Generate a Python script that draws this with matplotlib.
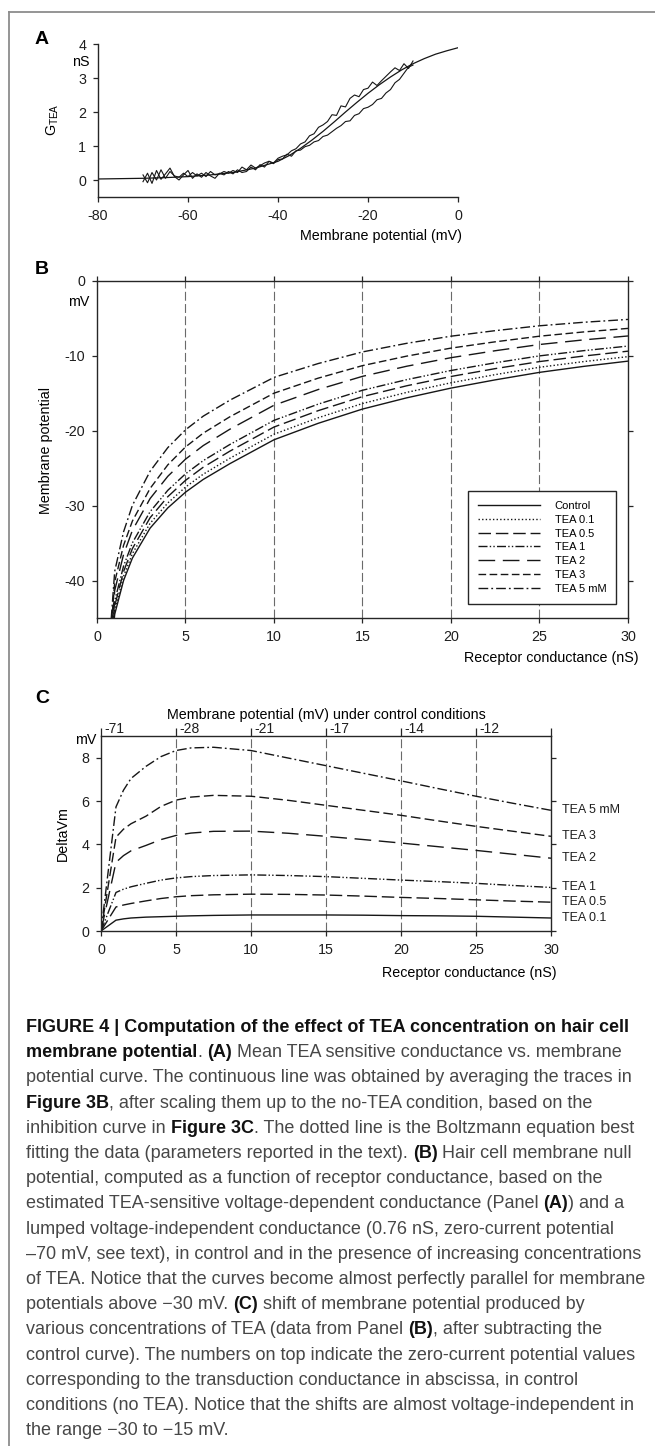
import numpy as np
import matplotlib
matplotlib.use('Agg')
import matplotlib.pyplot as plt
import matplotlib.transforms as mtransforms
from matplotlib.lines import Line2D

plt.rcParams['font.family'] = ['Liberation Sans', 'DejaVu Sans']
plt.rcParams['axes.unicode_minus'] = False
plt.rcParams['mathtext.default'] = 'regular'

W, H = 655, 1446

# --- panel A: TEA-sensitive conductance vs membrane potential ---
v_fit = [-80, -75, -70, -65, -60, -55, -50, -45, -40, -37.5, -35, -32.5, -30,
         -27.5, -25, -22.5, -20, -17.5, -15, -12.5, -10, -7.5, -5, -2.5, 0]
g_fit = [0.03, 0.04, 0.05, 0.07, 0.10, 0.15, 0.22, 0.35, 0.55, 0.72, 0.93, 1.17, 1.43,
         1.71, 2.00, 2.28, 2.55, 2.80, 3.03, 3.24, 3.42, 3.57, 3.70, 3.80, 3.89]

# averaged traces, sampled every 1 mV from -70 to -10
trace_1 = [0.15, -0.08, 0.22, 0.00, 0.30, 0.05, 0.25, 0.12, 0.08, 0.20, 0.10,
           0.22, 0.12, 0.20, 0.10, 0.25, 0.15, 0.18, 0.25, 0.20, 0.28,
           0.22, 0.38, 0.30, 0.44, 0.35, 0.42, 0.50, 0.55, 0.50, 0.64,
           0.70, 0.74, 0.86, 0.92, 1.06, 1.12, 1.30, 1.36, 1.55, 1.62,
           1.72, 1.92, 1.90, 2.18, 2.15, 2.40, 2.50, 2.45, 2.66, 2.70,
           2.88, 2.78, 2.92, 3.05, 3.18, 3.30, 3.22, 3.42, 3.28, 3.50]
trace_2 = [-0.05, 0.20, -0.10, 0.28, 0.02, 0.18, 0.35, 0.10, 0.00, 0.15, 0.28,
           0.05, 0.18, 0.08, 0.22, 0.12, 0.05, 0.20, 0.15, 0.25, 0.18,
           0.30, 0.22, 0.25, 0.38, 0.30, 0.45, 0.38, 0.55, 0.48, 0.60,
           0.62, 0.76, 0.70, 0.86, 0.88, 0.98, 1.02, 1.12, 1.16, 1.28,
           1.32, 1.42, 1.52, 1.60, 1.72, 1.74, 1.90, 1.95, 2.10, 2.14,
           2.22, 2.36, 2.40, 2.56, 2.66, 2.86, 2.96, 3.14, 3.32, 3.38]

# --- panels B and C: receptor conductance (nS) ---
g_rec = [0, 1, 1.5, 2, 3, 4, 5, 6, 7.5, 10, 12.5, 15, 17.5, 20, 22.5, 25, 27.5, 30]
vm_control = [-71, -44.5, -40.0, -37.0, -33.0, -30.3, -28.2, -26.5, -24.4, -21.2,
              -19.0, -17.1, -15.6, -14.3, -13.2, -12.2, -11.4, -10.7]
# shift of membrane potential (mV) from control
shift_01 = [0, 0.50, 0.56, 0.60, 0.64, 0.66, 0.68, 0.70, 0.72, 0.74,
            0.74, 0.74, 0.73, 0.71, 0.70, 0.68, 0.64, 0.60]
shift_05 = [0, 1.11, 1.20, 1.27, 1.39, 1.50, 1.58, 1.63, 1.67, 1.70,
            1.69, 1.66, 1.61, 1.55, 1.50, 1.44, 1.38, 1.33]
shift_1 = [0, 1.78, 1.93, 2.04, 2.20, 2.35, 2.45, 2.51, 2.56, 2.59,
           2.56, 2.51, 2.43, 2.35, 2.28, 2.20, 2.10, 2.01]
shift_2 = [0, 3.17, 3.48, 3.70, 3.95, 4.22, 4.41, 4.52, 4.60, 4.61,
           4.51, 4.37, 4.22, 4.06, 3.89, 3.72, 3.54, 3.36]
shift_3 = [0, 4.33, 4.70, 4.95, 5.30, 5.75, 6.04, 6.18, 6.26, 6.22,
           6.03, 5.80, 5.57, 5.34, 5.08, 4.83, 4.60, 4.37]
shift_5 = [0, 5.73, 6.50, 7.04, 7.60, 8.05, 8.33, 8.45, 8.48, 8.33,
           7.98, 7.63, 7.28, 6.93, 6.57, 6.22, 5.89, 5.57]

tea_labels = ['TEA 0.1', 'TEA 0.5', 'TEA 1', 'TEA 2', 'TEA 3', 'TEA 5 mM']
top_ticks = [0, 5, 10, 15, 20, 25]

shifts = [shift_01, shift_05, shift_1, shift_2, shift_3, shift_5]
# line styles of panel B (control drawn solid)
styles_b = [(0, (1, 1.6)), (0, (9, 3.5)), (0, (6.5, 1.6, 1, 1.6, 1, 1.6)),
            (0, (12, 5.5)), (0, (5.5, 2.5)), (0, (7, 2.2, 1.3, 2.2))]
# panel C has no control curve, TEA 0.1 takes the solid line
styles_c = ['-', (0, (9, 3.5)), (0, (6.5, 1.6, 1, 1.6, 1, 1.6)),
            (0, (12, 5.5)), (0, (7, 3)), (0, (7, 2.2, 1.3, 2.2))]

INK = '#161616'
AX = '#262626'
GRID = '#6a6a6a'

fig = plt.figure(figsize=(W / 100, H / 100), dpi=100)


def px_axes(left, top, right, bottom):
    return fig.add_axes([left / W, 1 - bottom / H, (right - left) / W, (bottom - top) / H])


def ftext(x, y, s, **kw):
    return fig.text(x / W, 1 - y / H, s, **kw)


def style_axes(ax):
    for sp in ax.spines.values():
        sp.set_color(AX)
        sp.set_linewidth(1.0)
    ax.tick_params(direction='out', length=3.5, width=0.9, colors=AX,
                   labelsize=10.3, pad=5, labelcolor='#1e1e1e')


# frame around the figure
fig.add_artist(Line2D([9 / W, 1], [1 - 12 / H, 1 - 12 / H], transform=fig.transFigure,
                      color='#8c8c8c', lw=1.3))
fig.add_artist(Line2D([9 / W, 9 / W], [1 - 12 / H, 0], transform=fig.transFigure,
                      color='#8c8c8c', lw=1.3))

# ---------------- A ----------------
axA = px_axes(98, 44, 458, 197)
style_axes(axA)
axA.plot(v_fit, g_fit, color=INK, lw=0.9)
axA.plot(np.linspace(-70, -10, len(trace_1)), trace_1, color=INK, lw=0.8)
axA.plot(np.linspace(-70, -10, len(trace_2)), trace_2, color=INK, lw=0.8)
axA.set_xlim(-80, 0)
axA.set_ylim(-0.5, 4)
axA.set_xticks([-80, -60, -40, -20, 0])
axA.set_yticks([0, 1, 2, 3, 4])
axA.spines['top'].set_visible(False)
axA.spines['right'].set_visible(False)
ftext(35, 39, 'A', fontsize=14, fontweight='bold', ha='left', va='center')
ftext(81, 62, 'nS', fontsize=10.3, ha='center', va='center')
ftext(53, 120, 'G$_{TEA}$', fontsize=10.3, rotation=90, ha='center', va='center')
ftext(462, 236, 'Membrane potential (mV)', fontsize=10.3, ha='right', va='center')

# ---------------- B ----------------
axB = px_axes(97, 281, 628, 618)
style_axes(axB)
for xv in [5, 10, 15, 20, 25]:
    axB.axvline(xv, color=GRID, lw=0.8, ls=(0, (8, 3)), zorder=1)
axB.plot(g_rec, vm_control, color=INK, lw=1.0, label='Control')
for sh, ls, lab in zip(shifts, styles_b, tea_labels):
    vm = np.array(vm_control) + np.array(sh)
    axB.plot(g_rec, vm, color=INK, lw=1.0, ls=ls, label=lab)
axB.set_xlim(0, 30)
axB.set_ylim(-45, 0)
axB.set_xticks([0, 5, 10, 15, 20, 25, 30])
axB.set_yticks([0, -10, -20, -30, -40])
axB.tick_params(top=True, right=True, labeltop=False, labelright=False)
leg = axB.legend(loc='upper left', bbox_to_anchor=((468 - 97) / 531, 1 - (491 - 281) / 337),
                 fontsize=8, handlelength=5.6, handletextpad=1.3, labelspacing=0.34,
                 borderpad=0.9, borderaxespad=0, fancybox=False, framealpha=1,
                 edgecolor=AX)
leg.get_frame().set_linewidth(1.0)
ftext(35, 270, 'B', fontsize=14, fontweight='bold', ha='left', va='center')
ftext(79, 302, 'mV', fontsize=10.3, ha='center', va='center')
ftext(46, 450, 'Membrane potential', fontsize=10.3, rotation=90, ha='center', va='center')
ftext(639, 658, 'Receptor conductance (nS)', fontsize=10.3, ha='right', va='center')

# ---------------- C ----------------
axC = px_axes(101, 736, 551, 931)
style_axes(axC)
for xv in [5, 10, 15, 20, 25]:
    axC.axvline(xv, color=GRID, lw=0.8, ls=(0, (8, 3)), zorder=1)
for sh, ls, lab in zip(shifts, styles_c, tea_labels):
    axC.plot(g_rec, sh, color=INK, lw=1.0, ls=ls)
    axC.annotate(lab, xy=(g_rec[-1], sh[-1]), xytext=(8, 0), textcoords='offset points',
                 fontsize=9, ha='left', va='center', color='#1e1e1e',
                 annotation_clip=False)
axC.set_xlim(0, 30)
axC.set_ylim(0, 9)
axC.set_xticks([0, 5, 10, 15, 20, 25, 30])
axC.set_yticks([0, 2, 4, 6, 8])
axC.tick_params(top=True, right=True, labeltop=False, labelright=False)
# top ticks reach up beside the control potential labels
for tk in axC.xaxis.get_major_ticks():
    tk.tick2line.set_markersize(6)
top_tr = mtransforms.blended_transform_factory(axC.transData, axC.transAxes)
for g in top_ticks:
    vm = vm_control[g_rec.index(g)]
    axC.text(g + 0.2, 1.0, f'{vm:.0f}', transform=top_tr, fontsize=10,
             ha='left', va='bottom', color='#1e1e1e')
ftext(35, 698, 'C', fontsize=14, fontweight='bold', ha='left', va='center')
ftext(326, 715, 'Membrane potential (mV) under control conditions', fontsize=10.3,
      ha='center', va='center')
ftext(86, 740, 'mV', fontsize=10.3, ha='center', va='center')
ftext(63, 834, 'DeltaVm', fontsize=10.3, rotation=90, ha='center', va='center')
ftext(557, 973, 'Receptor conductance (nS)', fontsize=10.3, ha='right', va='center')

# ---------------- caption ----------------
caption = [
    [('FIGURE 4 | Computation of the effect of TEA concentration on hair cell', True)],
    [('membrane potential', True), ('.', False), (' (A)', True),
     (' Mean TEA sensitive conductance vs. membrane', False)],
    [('potential curve. The continuous line was obtained by averaging the traces in', False)],
    [('Figure 3B', True), (', after scaling them up to the no-TEA condition, based on the', False)],
    [('inhibition curve in', False), (' Figure 3C', True),
     ('. The dotted line is the Boltzmann equation best', False)],
    [('fitting the data (parameters reported in the text).', False), (' (B)', True),
     (' Hair cell membrane null', False)],
    [('potential, computed as a function of receptor conductance, based on the', False)],
    [('estimated TEA-sensitive voltage-dependent conductance (Panel', False), (' (A)', True),
     (') and a', False)],
    [('lumped voltage-independent conductance (0.76 nS, zero-current potential', False)],
    [('\u201370 mV, see text), in control and in the presence of increasing concentrations', False)],
    [('of TEA. Notice that the curves become almost perfectly parallel for membrane', False)],
    [('potentials above \u221230 mV.', False), (' (C)', True),
     (' shift of membrane potential produced by', False)],
    [('various concentrations of TEA (data from Panel', False), (' (B)', True),
     (', after subtracting the', False)],
    [('control curve). The numbers on top indicate the zero-current potential values', False)],
    [('corresponding to the transduction conductance in abscissa, in control', False)],
    [('conditions (no TEA). Notice that the shifts are almost voltage-independent in', False)],
    [('the range \u221230 to \u221215 mV.', False)],
]

cap_family = ['Liberation Sans Narrow', 'Liberation Sans', 'DejaVu Sans']
renderer = fig.canvas.get_renderer()


def text_width(s, bold, size):
    t = ftext(0, 0, s, fontsize=size, family=cap_family,
              fontweight='bold' if bold else 'normal')
    w = t.get_window_extent(renderer).width
    t.remove()
    return w


def line_width(parts, size):
    sp = {b: text_width('n n', b, size) - text_width('nn', b, size) for b in (True, False)}
    w = 0
    for s, bold in parts:
        if s.startswith(' '):
            w += sp[bold]
        w += text_width(s.lstrip(' '), bold, size)
    return w


# largest size at which every caption line fits in the column
cap_size = min(12 * 620 / line_width(p, 12) for p in caption)
space_w = {b: text_width('n n', b, cap_size) - text_width('nn', b, cap_size)
           for b in (True, False)}

for i, parts in enumerate(caption):
    x = 26
    y = 1032 + i * 25.2
    for s, bold in parts:
        if s.startswith(' '):
            x += space_w[bold]
            s = s.lstrip(' ')
        t = ftext(x, y, s, fontsize=cap_size, family=cap_family,
                  fontweight='bold' if bold else 'normal',
                  color='#111111' if bold else '#474747', ha='left', va='baseline')
        x = t.get_window_extent(renderer).x1

fig.savefig('out.png', dpi=100)
